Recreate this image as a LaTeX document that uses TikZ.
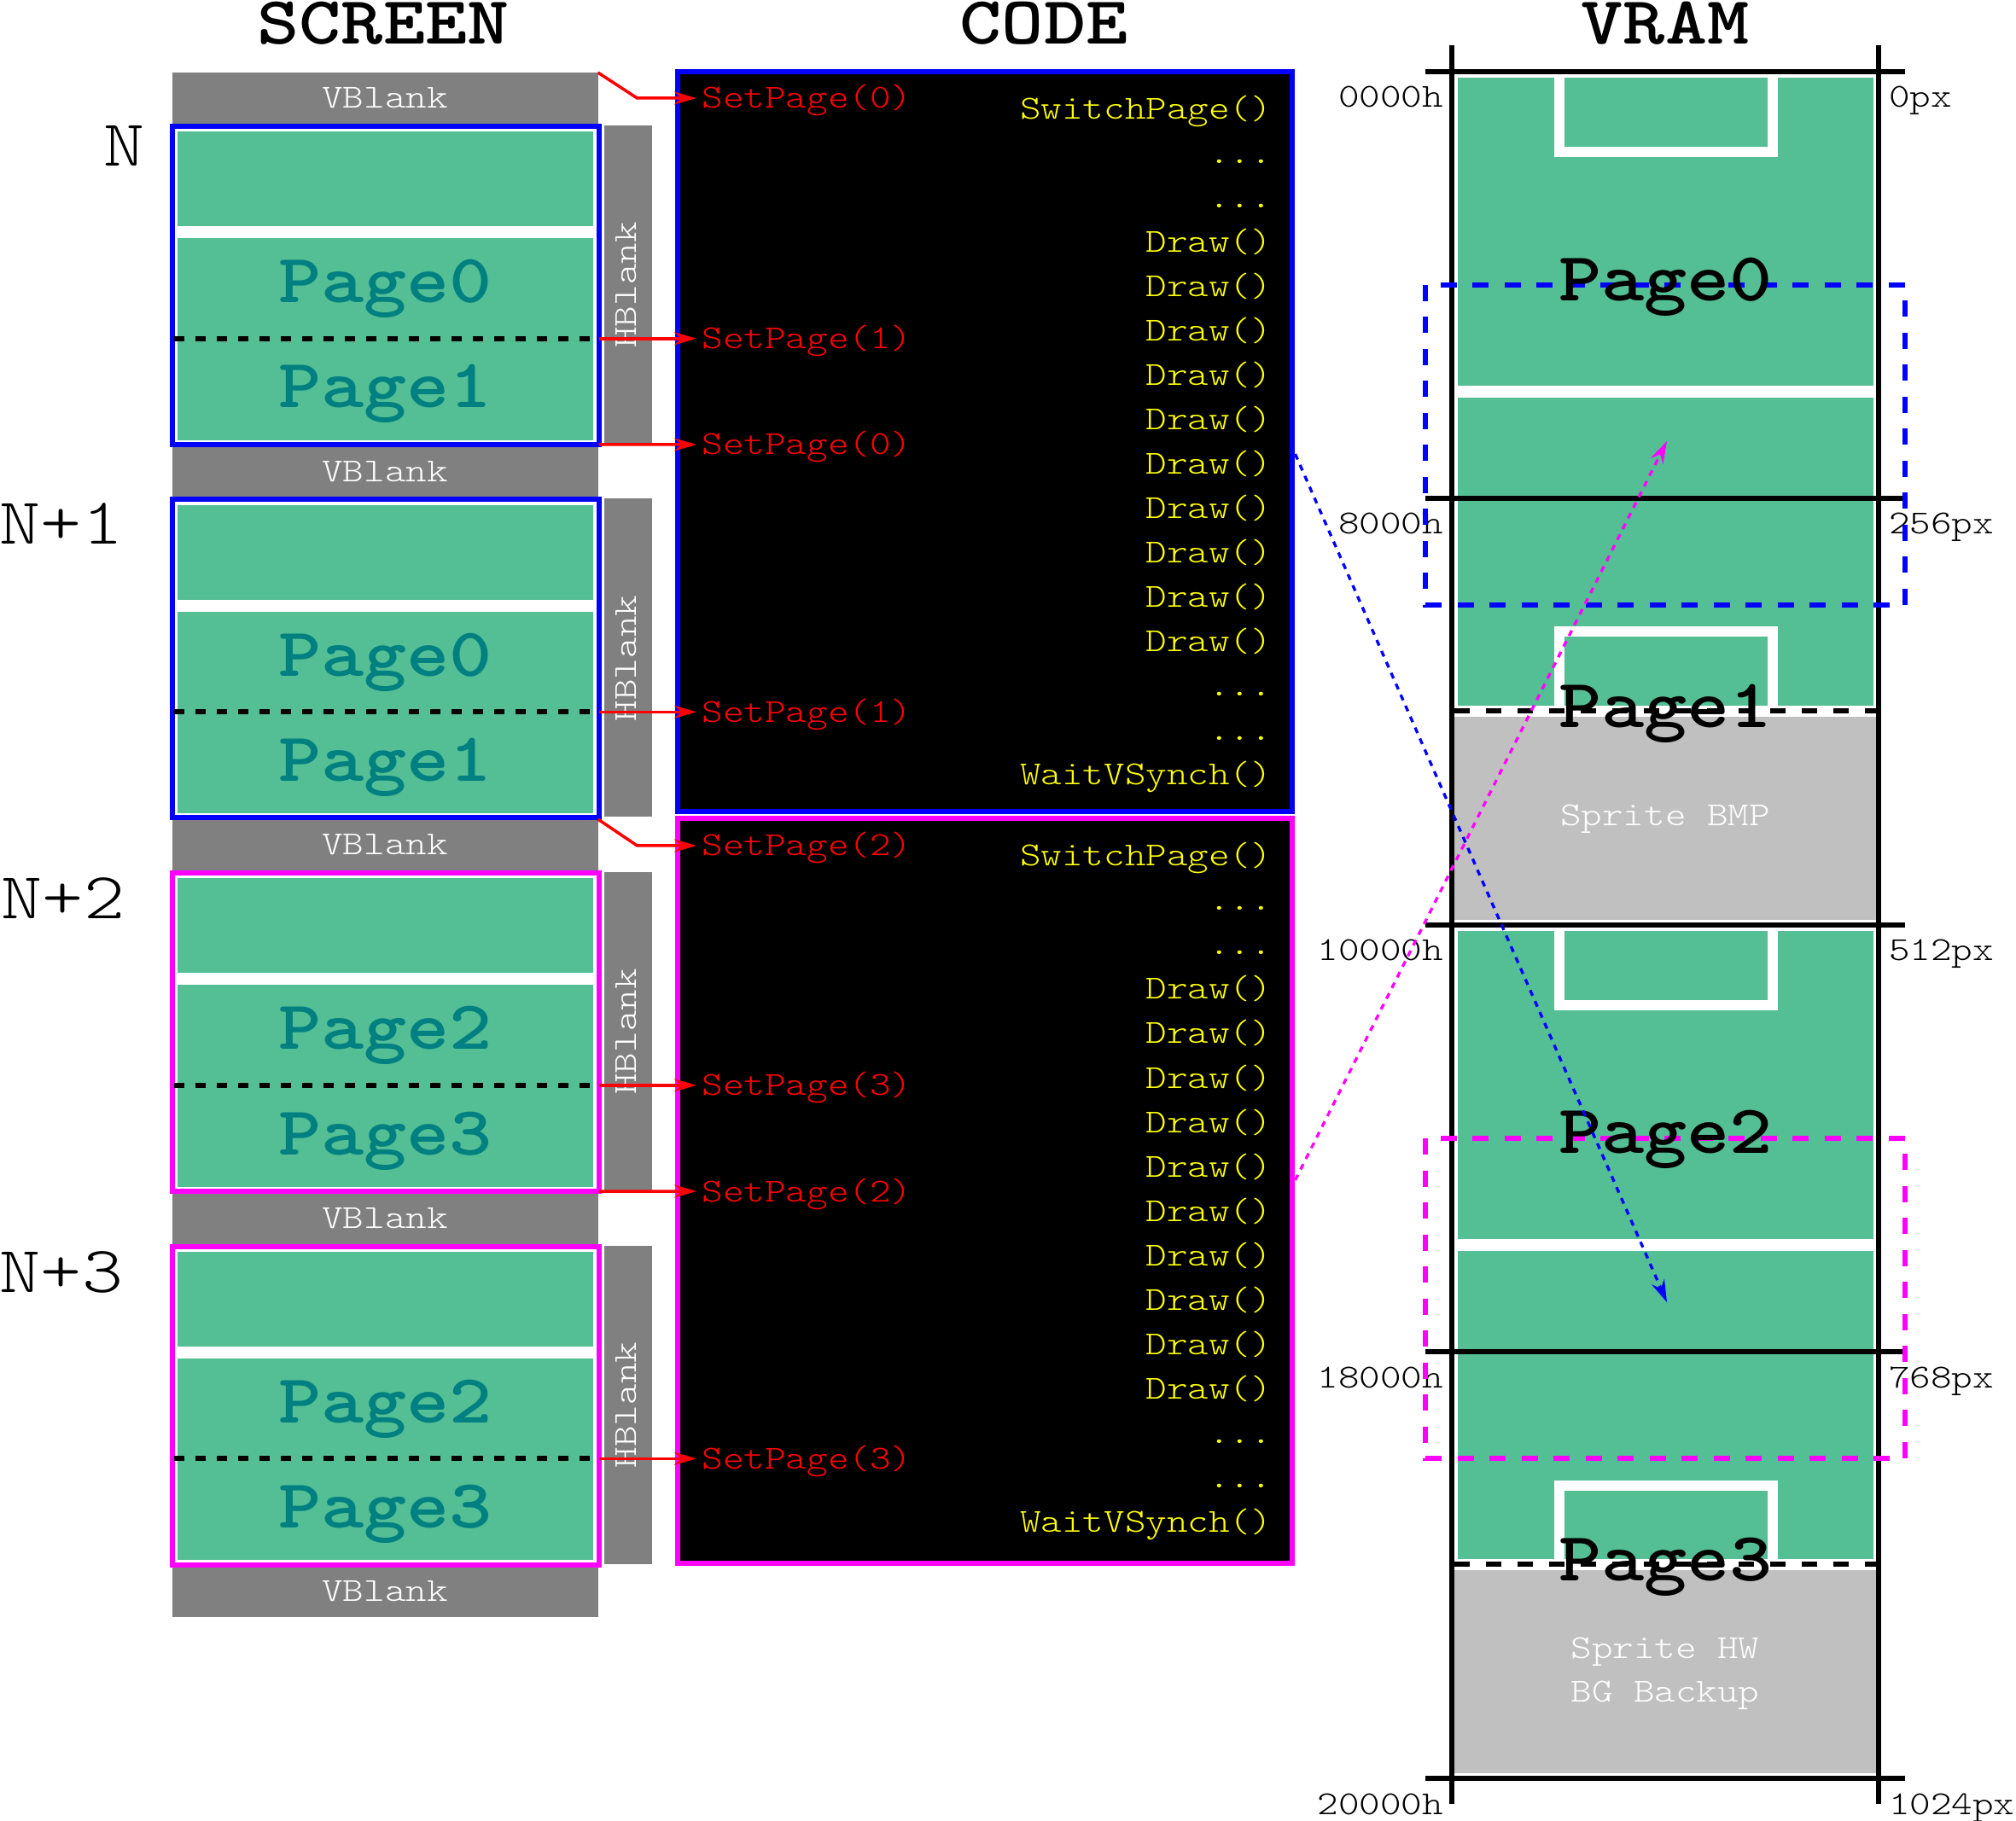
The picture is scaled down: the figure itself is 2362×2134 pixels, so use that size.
\documentclass[tikz,border=0pt]{standalone}
\usepackage{fontspec}
\usetikzlibrary{arrows.meta}
% Courier-like typewriter faces (light Latin Modern Mono, widened to Courier proportions)
\newfontfamily\crn{lmmonolt10-regular.otf}[FakeStretch=1.19]
\newfontfamily\crnb{lmmonolt10-bold.otf}[FakeStretch=1.18]
\definecolor{pitch}{RGB}{84,190,148}
\definecolor{blankgray}{RGB}{128,128,128}
\definecolor{spritegray}{RGB}{192,192,192}
\definecolor{pagetext}{RGB}{0,128,128}
\definecolor{pagemag}{RGB}{255,0,255}
\definecolor{pageblue}{RGB}{0,0,255}
\definecolor{codeyellow}{RGB}{255,255,0}
\definecolor{setred}{RGB}{255,0,0}
\newcommand\tdots{...}

\begin{document}
\begin{tikzpicture}[x=0.3pt,y=-0.3pt,
  every node/.style={inner sep=0pt,outer sep=0pt},
  smallfont/.style={font=\crn\fontsize{11.8pt}{14pt}\selectfont},
  title/.style={anchor=base,font=\crnb\fontsize{23.8pt}{28pt}\selectfont},
  pagelbl/.style={anchor=base,font=\crnb\fontsize{24.3pt}{28pt}\selectfont},
  framelbl/.style={anchor=base,font=\crn\fontsize{23.1pt}{28pt}\selectfont},
  vblank/.style={fill=blankgray,minimum width=499*0.3pt,minimum height=60*0.3pt,text=white,smallfont},
  hblabel/.style={rotate=90,text=white,smallfont},
  scrbox/.style={draw=#1,fill=white,line width=1.8pt,minimum width=500*0.3pt,minimum height=373*0.3pt},
  pitchbox/.style={fill=pitch,draw=white,line width=0.45pt},
  cutline/.style={black,line width=1.8pt,dash pattern=on 3.6pt off 3.9pt},
  vramcut/.style={black,line width=1.8pt,dash pattern=on 5.4pt off 5.7pt},
  codebox/.style={draw=#1,fill=black,line width=1.8pt,minimum width=719.5*0.3pt},
  codeline/.style={anchor=base east,text=codeyellow,smallfont},
  setp/.style={anchor=west,text=setred,smallfont,inner xsep=2pt,text height=9pt,text depth=1.8pt},
  redarr/.style={setred,line width=1.05pt,-{Stealth[length=7.8pt,width=4.5pt]}},
  conn/.style={#1,line width=1pt,dash pattern=on 2.1pt off 2.1pt,-{Stealth[length=7.8pt,width=4.8pt]}},
  vline/.style={black,line width=1.8pt},
  goal/.style={white,line width=3.6pt},
  dashrect/.style={#1,line width=1.8pt,dash pattern=on 5.7pt off 5.55pt},
  addr/.style={smallfont},
]
\path[use as bounding box] (0,0) rectangle (2362,2134);

% ---------- column titles ----------
\node[title] (tscr)  at (449,52)  {SCREEN};
\node[title] (tcode) at (1223,52) {CODE};
\node[title] (tvram) at (1951,52) {VRAM};

% ---------- screen: frames N .. N+3 ----------
\foreach \k in {0,...,4}
  \node[vblank] (vb\k) at (451,{115+437.5*\k}) {VBlank};

\foreach \k/\col/\pa/\pb in {0/pageblue/0/1,1/pageblue/0/1,2/pagemag/2/3,3/pagemag/2/3}{
  \pgfmathsetmacro\T{145+437.5*\k}
  \fill[blankgray] (708,\T+2) rectangle (764,\T+375);
  \node[hblabel] (hb\k) at (734,\T+189) {HBlank};
  \node[scrbox=\col] (scr\k) at (451.5,\T+189.5) {};
  \filldraw[pitchbox] (207.5,\T+8.5) rectangle (695.5,\T+121);
  \filldraw[pitchbox] (207.5,\T+133.5) rectangle (695.5,\T+371.5);
  \draw[cutline] (204,\T+251.8) -- (698,\T+251.8);
  \coordinate (cut\k) at (701.5,\T+251.8);
  \node[pagelbl,text=pagetext] (pgA\k) at (451.5,\T+210) {Page\pa};
  \node[pagelbl,text=pagetext] (pgB\k) at (451.5,\T+333) {Page\pb};
}

\node[framelbl] (fN0) at (146,195)  {N};
\node[framelbl] (fN1) at (72,638)   {N+1};
\node[framelbl] (fN2) at (74,1077)  {N+2};
\node[framelbl] (fN3) at (72,1514)  {N+3};

% ---------- code listings ----------
\node[codebox=pageblue,minimum height=867.5*0.3pt] (codeA) at (1153.75,517.75) {};
\node[codebox=pagemag,minimum height=873*0.3pt] (codeB) at (1153.75,1395.5) {};

\foreach \t [count=\i from 0] in {SwitchPage(),\tdots,\tdots,Draw(),Draw(),Draw(),Draw(),Draw(),Draw(),Draw(),Draw(),Draw(),Draw(),\tdots,\tdots,WaitVSynch()}{
  \node[codeline] (cA\i) at (1490,140+52*\i) {\t};
  \node[codeline] (cB\i) at (1490,1015+52*\i) {\t};
}

\node[setp] (sp1) at (816,115)    {SetPage(0)};
\node[setp] (sp2) at (816,396.8)  {SetPage(1)};
\node[setp] (sp3) at (816,521)    {SetPage(0)};
\node[setp] (sp4) at (816,834.3)  {SetPage(1)};
\node[setp] (sp5) at (816,991)    {SetPage(2)};
\node[setp] (sp6) at (816,1271.8) {SetPage(3)};
\node[setp] (sp7) at (816,1396)   {SetPage(2)};
\node[setp] (sp8) at (816,1709.3) {SetPage(3)};

\draw[redarr] (vb0.north east) -- ++(46,30) -- (sp1.west);
\draw[redarr] (cut0) -- (sp2.west);
\draw[redarr] (scr0.south east) -- (sp3.west);
\draw[redarr] (cut1) -- (sp4.west);
\draw[redarr] (vb2.north east) -- ++(46,31) -- (sp5.west);
\draw[redarr] (cut2) -- (sp6.west);
\draw[redarr] (scr2.south east) -- (sp7.west);
\draw[redarr] (cut3) -- (sp8.west);

% ---------- VRAM map ----------
\foreach \o in {84,1084}{
  \fill[white] (1704,\o+3) rectangle (2198,\o+997);
  \filldraw[pitchbox] (1707,\o+6) rectangle (2195.5,\o+369);
  \filldraw[pitchbox] (1707,\o+381) rectangle (2195.5,\o+744);
  \fill[spritegray] (1704,\o+756) rectangle (2198,\o+994);
  \draw[goal] (1826.5,\o+3) -- (1826.5,\o+94) -- (2076.5,\o+94) -- (2076.5,\o+3);
  \draw[goal] (1826.5,\o+746) -- (1826.5,\o+656.5) -- (2076.5,\o+656.5) -- (2076.5,\o+746);
  \draw[vramcut] (1704,\o+749) -- (2198,\o+749);
}
\draw[vline] (1701,53) -- (1701,2114);
\draw[vline] (2201,53) -- (2201,2114);
\foreach \y/\l/\r [count=\i] in {84/0000h/0px,584/8000h/256px,1084/10000h/512px,1584/18000h/768px,2084/20000h/1024px}{
  \draw[vline] (1670,\y) -- (2232,\y);
  \node[addr,anchor=base east] (ad\i) at (1691,\y+42) {\l};
  \node[addr,anchor=base west] (px\i) at (2213,\y+42) {\r};
}

\draw[dashrect=pageblue] (1670,334) rectangle (2232,709);
\draw[dashrect=pagemag] (1670,1334) rectangle (2232,1709);

\node[pagelbl,text=black] (vp0) at (1951.5,353)  {Page0};
\node[pagelbl,text=black] (vp1) at (1951.5,853)  {Page1};
\node[pagelbl,text=black] (vp2) at (1951.5,1351) {Page2};
\node[pagelbl,text=black] (vp3) at (1951.5,1852) {Page3};

\node[addr,anchor=base,text=white] (spbmp) at (1951,968)    {Sprite BMP};
\node[addr,anchor=base,text=white] (sphw)  at (1951,1943)   {Sprite HW};
\node[addr,anchor=base,text=white] (spbg)  at (1951,1994.5) {BG Backup};

% ---------- which page each listing draws into ----------
\coordinate (tgtA) at (1953,1526);
\coordinate (tgtB) at (1953,517);
\draw[conn=pageblue] ([xshift=1.2pt,yshift=-4.3pt]codeA.east) -- (tgtA);
\draw[conn=pagemag] ([xshift=1.2pt,yshift=3.75pt]codeB.east) -- (tgtB);
\end{tikzpicture}
\end{document}
